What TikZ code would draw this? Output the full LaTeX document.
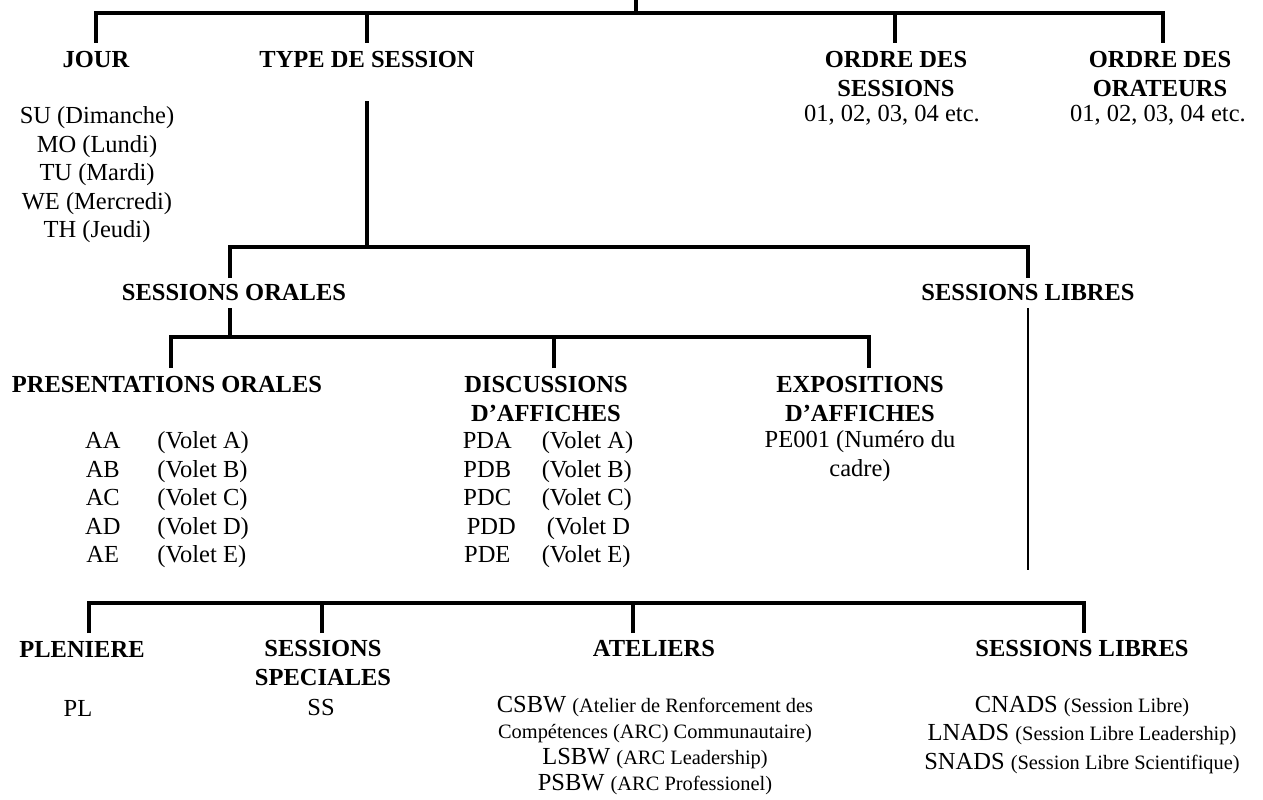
\documentclass[tikz,border=0pt]{standalone}
\usepackage{fontspec}
\setmainfont{Liberation Serif}
\usetikzlibrary{positioning}
\newcommand{\petit}{\fontsize{20.4}{26}\selectfont}

\begin{document}
\begin{tikzpicture}[x=1pt, y=-1pt,
    every node/.style={inner sep=0pt, font=\fontsize{24.5}{28.5}\selectfont},
    link/.style={line width=4pt},
    thin link/.style={line width=2.6pt},
    heading/.style={font=\fontsize{24.5}{28.5}\selectfont\bfseries, align=center},
    entry/.style={align=center}]
    \useasboundingbox (0,0) rectangle (1263,800);

    \node[heading] (jour) at (96,60) {JOUR};
    \node[heading] (typesession) at (367,60) {TYPE DE SESSION};
    \node[heading] (ordresess) at (896,74) {ORDRE DES\\SESSIONS};
    \node[heading] (ordreorat) at (1160,74) {ORDRE DES\\ORATEURS};
    \node (sessnum) at (892,115) {01, 02, 03, 04 etc.};
    \node (oratnum) at (1158,115) {01, 02, 03, 04 etc.};
    \node[entry] (jourlist) at (97,175) {SU (Dimanche)\\MO (Lundi)\\TU (Mardi)\\WE (Mercredi)\\TH (Jeudi)};

    \node[heading] (sessorales) at (234,293) {SESSIONS ORALES};
    \node[heading] (sesslibres) at (1028,293) {SESSIONS LIBRES};

    \node[heading] (presor) at (167,385) {PRESENTATIONS ORALES};
    \node[heading] (discaff) at (546,399) {DISCUSSIONS\\D’AFFICHES};
    \node[heading] (expoaff) at (860,399) {EXPOSITIONS\\D’AFFICHES};
    \node (aalist) at (167,500) {\begin{tabular}{@{}c@{\hspace{37pt}}l@{}}
        AA & (Volet A)\\ AB & (Volet B)\\ AC & (Volet C)\\ AD & (Volet D)\\ AE & (Volet E)
        \end{tabular}};
    \node (pdlist) at (546,500) {\begin{tabular}{@{}c@{\hspace{26pt}}l@{}}
        PDA & (Volet A)\\ PDB & (Volet B)\\ PDC & (Volet C)\\ \hspace{8pt}PDD & \hspace{5pt}(Volet D\\ PDE & (Volet E)
        \end{tabular}};
    \node[entry] (pelist) at (860,456) {PE001 (Numéro du\\cadre)};

    \node[heading] (pleniere) at (82,649) {PLENIERE};
    \node[heading] (sessspec) at (323,663) {SESSIONS\\SPECIALES};
    \node[heading] (ateliers) at (654,649) {ATELIERS};
    \node[heading] (libres) at (1082,649) {SESSIONS LIBRES};
    \node (pl) at (78,708) {PL};
    \node (ss) at (321,708) {SS};
    \node[entry, font=\fontsize{24.5}{26}\selectfont] (atlist) at (655,746) {CSBW {\petit (Atelier de Renforcement des}\\{\petit Compétences (ARC) Communautaire)}\\LSBW {\petit (ARC Leadership)}\\PSBW {\petit (ARC Professionel)}};
    \node[entry] (liblist) at (1082,735) {CNADS {\petit (Session Libre)}\\LNADS {\petit (Session Libre Leadership)}\\SNADS {\petit (Session Libre Scientifique)}};

    \coordinate (root) at (636,0);
    \coordinate (rootJ) at (636,13);
    \coordinate (jourTop) at (96,43);
    \coordinate (typeTop) at (367,43);
    \coordinate (sessTop) at (895,43);
    \coordinate (oratTop) at (1163,43);
    \draw[link] (root) -- (rootJ);
    \draw[link] (jourTop) |- (rootJ) -| (oratTop);
    \draw[link] (typeTop) -- (typeTop |- rootJ);
    \draw[link] (sessTop) -- (sessTop |- rootJ);

    \coordinate (typeLow) at (367,101);
    \coordinate (typeJ) at (367,247);
    \coordinate (oraTop) at (230,278);
    \coordinate (libTop) at (1028,278);
    \draw[link] (typeLow) -- (typeJ);
    \draw[link] (oraTop) |- (typeJ) -| (libTop);

    \coordinate (oraLow) at (230,308);
    \coordinate (oraJ) at (230,337);
    \coordinate (presTop) at (171,368);
    \coordinate (discTop) at (554,368);
    \coordinate (expoTop) at (869,368);
    \draw[link] (oraLow) -- (oraJ);
    \draw[link] (presTop) |- (oraJ) -| (expoTop);
    \draw[link] (discTop) -- (discTop |- oraJ);

    \coordinate (libLow) at (1028,308);
    \coordinate (libEnd) at (1028,570);
    \draw[thin link] (libLow) -- (libEnd);

    \coordinate (botJ) at (633,603);
    \coordinate (plenTop) at (89,633);
    \coordinate (specTop) at (322,633);
    \coordinate (atelTop) at (633,633);
    \coordinate (librTop) at (1084,633);
    \draw[link] (plenTop) |- (botJ) -| (librTop);
    \draw[link] (specTop) -- (specTop |- botJ);
    \draw[link] (atelTop) -- (botJ);
\end{tikzpicture}
\end{document}
